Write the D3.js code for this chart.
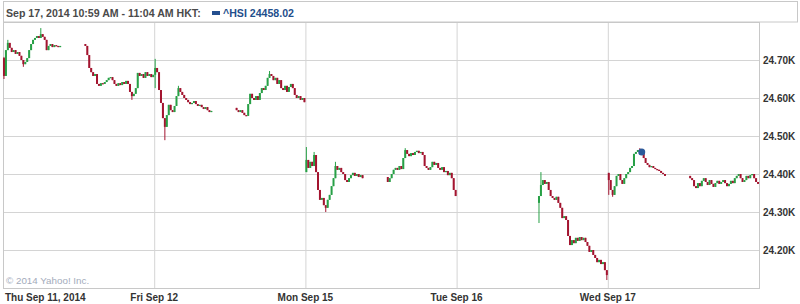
<html lang="en">
<head>
  <meta charset="UTF-8"/>
  <title>HSI 5-day candles</title>
  <script src="https://d3js.org/d3.v7.min.js"></script>
</head>
<body>
  <svg id="chart"></svg>
</body>
<style>
body {
  margin: 0;
  background: #fff;
  font-family: Arial, 'Liberation Sans', sans-serif;
}
svg {
  width: 800px;
  height: 304px;
  display: block;
}
.frame {
  fill: none;
  stroke: #c8c8c8;
}
.grid line {
  stroke: #d4d4d4;
}
.grid path {
  stroke-width: 0;
}
text.tick-label {
  font-size: 10px;
  font-weight: 700;
  fill: #333;
}
text.head {
  font-size: 10.6px;
  font-weight: 700;
}
text.copy {
  font-size: 9.8px;
  fill: #a3abbb;
}
</style>

<script>
// day labels and price ticks
const dayLabels = ["Thu Sep 11, 2014", "Fri Sep 12", "Mon Sep 15", "Tue Sep 16", "Wed Sep 17"];
const yTicks = [24200, 24300, 24400, 24500, 24600, 24700];

// 5-minute closes per session (morning 30 bars, afternoon 36 bars)
const thuAM = [24658,24726,24745,24732,24721,24726,24716,24721,24711,24700,24689,24695,24705,24726,24742,24753,24758,24763,24758,24768,24761,24753,24726,24737,24742,24734,24739,24737,24734,24737];
const thuPM = [24737,24713,24679,24668,24658,24663,24637,24632,24639,24637,24642,24647,24653,24655,24647,24637,24632,24639,24634,24642,24637,24645,24637,24616,24605,24611,24626,24666,24658,24663,24653,24668,24658,24663,24655,24661];
const friAM = [24679,24668,24621,24587,24547,24524,24555,24582,24568,24563,24579,24605,24626,24616,24608,24600,24595,24589,24584,24587,24592,24584,24579,24582,24576,24571,24576,24568,24563,24566];
const friPM = [24568,24563,24568,24561,24555,24553,24584,24611,24600,24595,24605,24595,24613,24626,24621,24632,24653,24663,24658,24647,24653,24637,24647,24626,24621,24632,24616,24629,24637,24626,24608,24600,24605,24595,24600,24589];
const monAM = [24437,24416,24432,24421,24450,24405,24358,24332,24337,24318,24311,24332,24345,24368,24389,24421,24411,24416,24405,24400,24384,24379,24389,24397,24403,24395,24400,24392,24397,24389];
const monPM = [24379,24389,24400,24411,24416,24411,24421,24413,24442,24463,24453,24447,24455,24450,24458,24461,24455,24458,24450,24421,24416,24411,24418,24432,24424,24429,24416,24411,24418,24405,24408,24397,24403,24389,24358,24342];
const tuePM = [24342,24371,24384,24374,24379,24358,24342,24337,24332,24340,24324,24311,24284,24289,24279,24237,24213,24226,24218,24232,24224,24234,24226,24232,24221,24211,24195,24200,24187,24179,24168,24174,24163,24168,24147,24134];
const wedAM = [24384,24358,24345,24368,24395,24400,24384,24374,24389,24400,24405,24416,24421,24453,24458,24463,24461,24458.02,24442,24429,24424,24418,24421,24416,24413,24411,24408,24403,24400,24395];
const wedPM = [24389,24384,24368,24363,24376,24368,24382,24389,24379,24371,24384,24374,24366,24376,24382,24374,24379,24384,24376,24368,24374,24382,24376,24389,24395,24400,24389,24379,24384,24395,24389,24397,24400,24389,24379,24374];

// opening price of each session's first bar
const sessionOpens = [24705, 24742, 24661, 24574, 24405, 24392, 24324, 24403, 24395];

// long wicks: [session, bar, high, low]
const wicks = [
  [0, 0, 24708, 24650], [0, 2, 24753, null], [0, 10, null, 24682], [0, 19, 24784, null],
  [1, 24, null, 24595],
  [2, 0, 24703, 24626], [2, 5, null, 24489], [2, 12, 24632, null],
  [3, 17, 24671, null],
  [4, 0, 24471, null], [4, 4, 24458, null], [4, 10, null, 24300], [4, 15, 24432, null],
  [5, 9, 24468, null],
  [6, 0, null, 24271], [6, 1, 24405, null], [6, 35, null, 24121],
  [7, 0, null, 24345], [7, 2, null, 24340], [7, 16, 24468, null]
];

const sessions = [
  { day: 0, start: 0,   closes: thuAM },
  { day: 0, start: 210, closes: thuPM },
  { day: 1, start: 0,   closes: friAM },
  { day: 1, start: 210, closes: friPM },
  { day: 2, start: 0,   closes: monAM },
  { day: 2, start: 210, closes: monPM },
  { day: 3, start: 210, closes: tuePM },
  { day: 4, start: 0,   closes: wedAM },
  { day: 4, start: 210, closes: wedPM }
];

const hoverBar = { session: 7, bar: 17 };

const W = 800, H = 304;
const plotL = 3, plotR = 759, plotT = 22, plotB = 288;
const dayMinutes = 390;

const svg = d3.select('#chart').attr('viewBox', `0 0 ${W} ${H}`);

const x = d3.scaleLinear().domain([0, 5 * dayMinutes]).range([plotL, plotR]);
const y = d3.scaleLinear().domain([24100, 24800]).range([plotB, plotT]);

// build candles
const candles = [];
sessions.forEach((s, si) => {
  s.closes.forEach((c, i) => {
    const o = i === 0 ? sessionOpens[si] : s.closes[i - 1];
    let h = Math.max(o, c), l = Math.min(o, c);
    wicks.forEach(w => {
      if (w[0] === si && w[1] === i) {
        if (w[2] != null) h = w[2];
        if (w[3] != null) l = w[3];
      }
    });
    candles.push({ t: s.day * dayMinutes + s.start + i * 5 + 2.5, o, c, h, l, si, i });
  });
});

// header box
svg.append('rect').attr('class', 'frame')
  .attr('x', plotL + 0.5).attr('y', 1.5).attr('width', 797 - plotL).attr('height', plotT - 1.5);

svg.append('text').attr('class', 'head')
  .attr('x', 6).attr('y', 17).attr('fill', '#4a4a4a')
  .text('Sep 17, 2014 10:59 AM - 11:04 AM HKT:');
svg.append('rect').attr('x', 212).attr('y', 11).attr('width', 8).attr('height', 4).attr('fill', '#244f8f');
svg.append('text').attr('class', 'head')
  .attr('x', 223).attr('y', 17).attr('fill', '#1f4f8c')
  .text('^HSI 24458.02');

// horizontal grid
svg.append('g').attr('class', 'grid')
  .attr('transform', `translate(${plotL},0)`)
  .call(d3.axisLeft(y).tickValues(yTicks).tickSize(-(plotR - plotL)).tickFormat(''));

// vertical grid at day boundaries
svg.append('g').attr('class', 'grid')
  .attr('transform', `translate(0,${plotB})`)
  .call(d3.axisBottom(x).tickValues(d3.range(1, 5).map(d => d * dayMinutes)).tickSize(-(plotB - plotT)).tickFormat(''));

// plot frame
svg.append('rect').attr('class', 'frame')
  .attr('x', plotL + 0.5).attr('y', plotT + 0.5).attr('width', plotR - plotL).attr('height', plotB - plotT);

// right axis labels
const yAxis = svg.append('g')
  .attr('transform', `translate(${plotR},0)`)
  .call(d3.axisRight(y).tickValues(yTicks).tickSize(0).tickPadding(4)
    .tickFormat(d => (d / 1000).toFixed(2) + 'K'));
yAxis.select('.domain').remove();
yAxis.selectAll('text').attr('class', 'tick-label').attr('font-family', null).attr('font-size', null);

// bottom day labels
svg.selectAll('text.day')
  .data(dayLabels)
  .join('text')
  .attr('class', 'tick-label day')
  .attr('x', (d, i) => i === 0 ? 5 : x(i * dayMinutes))
  .attr('y', 301)
  .attr('text-anchor', (d, i) => i === 0 ? 'start' : 'middle')
  .text(d => d);

svg.append('text').attr('class', 'copy')
  .attr('x', 6).attr('y', 284)
  .text('\u00a9 2014 Yahoo! Inc.');

// candles
const up = '#27a046', down = '#a3142f';
const g = svg.append('g');
g.selectAll('line.wick')
  .data(candles)
  .join('line')
  .attr('x1', d => x(d.t)).attr('x2', d => x(d.t))
  .attr('y1', d => y(d.h)).attr('y2', d => y(d.l))
  .attr('stroke', d => d.c >= d.o ? up : down)
  .attr('stroke-width', 1);
g.selectAll('rect.body')
  .data(candles)
  .join('rect')
  .attr('x', d => x(d.t) - 1)
  .attr('width', 2)
  .attr('y', d => y(Math.max(d.o, d.c)))
  .attr('height', d => Math.max(1.2, Math.abs(y(d.o) - y(d.c))))
  .attr('fill', d => d.c >= d.o ? up : down);

// hovered bar marker
const hb = candles.find(d => d.si === hoverBar.session && d.i === hoverBar.bar);
svg.append('circle')
  .attr('cx', x(hb.t)).attr('cy', y(hb.c)).attr('r', 3.5)
  .attr('fill', '#2c5a9a');
</script>
</html>
